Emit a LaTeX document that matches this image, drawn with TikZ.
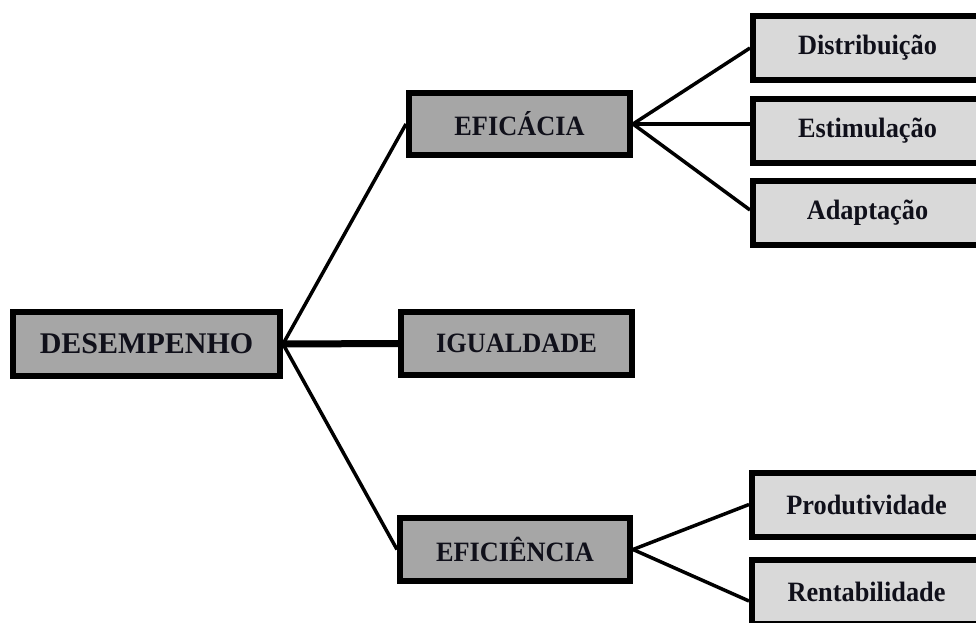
\documentclass[tikz,border=0pt]{standalone}
\usepackage{fontspec}
\setmainfont{Liberation Serif}
\definecolor{maingray}{HTML}{A6A6A6}
\definecolor{leafgray}{HTML}{D9D9D9}
\definecolor{txt}{HTML}{10101A}
\newcommand{\narrowtext}[1]{\scalebox{0.94}[1]{#1}}
\begin{document}
\begin{tikzpicture}[x=1pt,y=-1pt,
  box/.style={draw=black, line width=6pt, inner sep=0pt, text=txt,
    font=\bfseries\fontsize{28}{32}\selectfont},
  mainbox/.style={box, fill=maingray},
  leafbox/.style={box, fill=leafgray, minimum width=229pt, minimum height=64pt},
  thinlink/.style={line width=3.5pt},
  thicklink/.style={line width=7pt}]
\useasboundingbox (0,0) rectangle (976,623);
\node[mainbox, minimum width=267pt, minimum height=64pt,
  font=\bfseries\fontsize{30}{33}\selectfont] (des) at (146.5,344) {DESEMPENHO};
\node[mainbox, minimum width=221pt, minimum height=62pt] (efa) at (519.5,124) {\narrowtext{EFICÁCIA}};
\node[mainbox, minimum width=231pt, minimum height=63pt] (igu) at (516.5,343.5) {\narrowtext{IGUALDADE}};
\node[mainbox, minimum width=230pt, minimum height=63pt] (efi) at (515,549.5) {\narrowtext{EFICIÊNCIA}};
\node[leafbox] (dis) at (867.5,48) {\narrowtext{Distribuição}};
\node[leafbox] (est) at (867.5,131) {\narrowtext{Estimulação}};
\node[leafbox] (ada) at (867.5,213) {\narrowtext{Adaptação}};
\node[leafbox] (pro) at (866.5,504.5) {\narrowtext{Produtividade}};
\node[leafbox] (ren) at (866.5,592) {\narrowtext{Rentabilidade}};
\draw[thinlink] (des.east) -- (efa.west);
\draw[thicklink] (des.east) -- (igu.west);
\draw[thinlink] (des.east) -- (efi.west);
\draw[thinlink] (efa.east) -- (dis.west);
\draw[thinlink] (efa.east) -- (efa.east -| est.west);
\draw[thinlink] (efa.east) -- ([yshift=3pt]ada.west);
\draw[thinlink] (efi.east) -- (pro.west);
\draw[thinlink] (efi.east) -- ([yshift=-9pt]ren.west);
\end{tikzpicture}
\end{document}
